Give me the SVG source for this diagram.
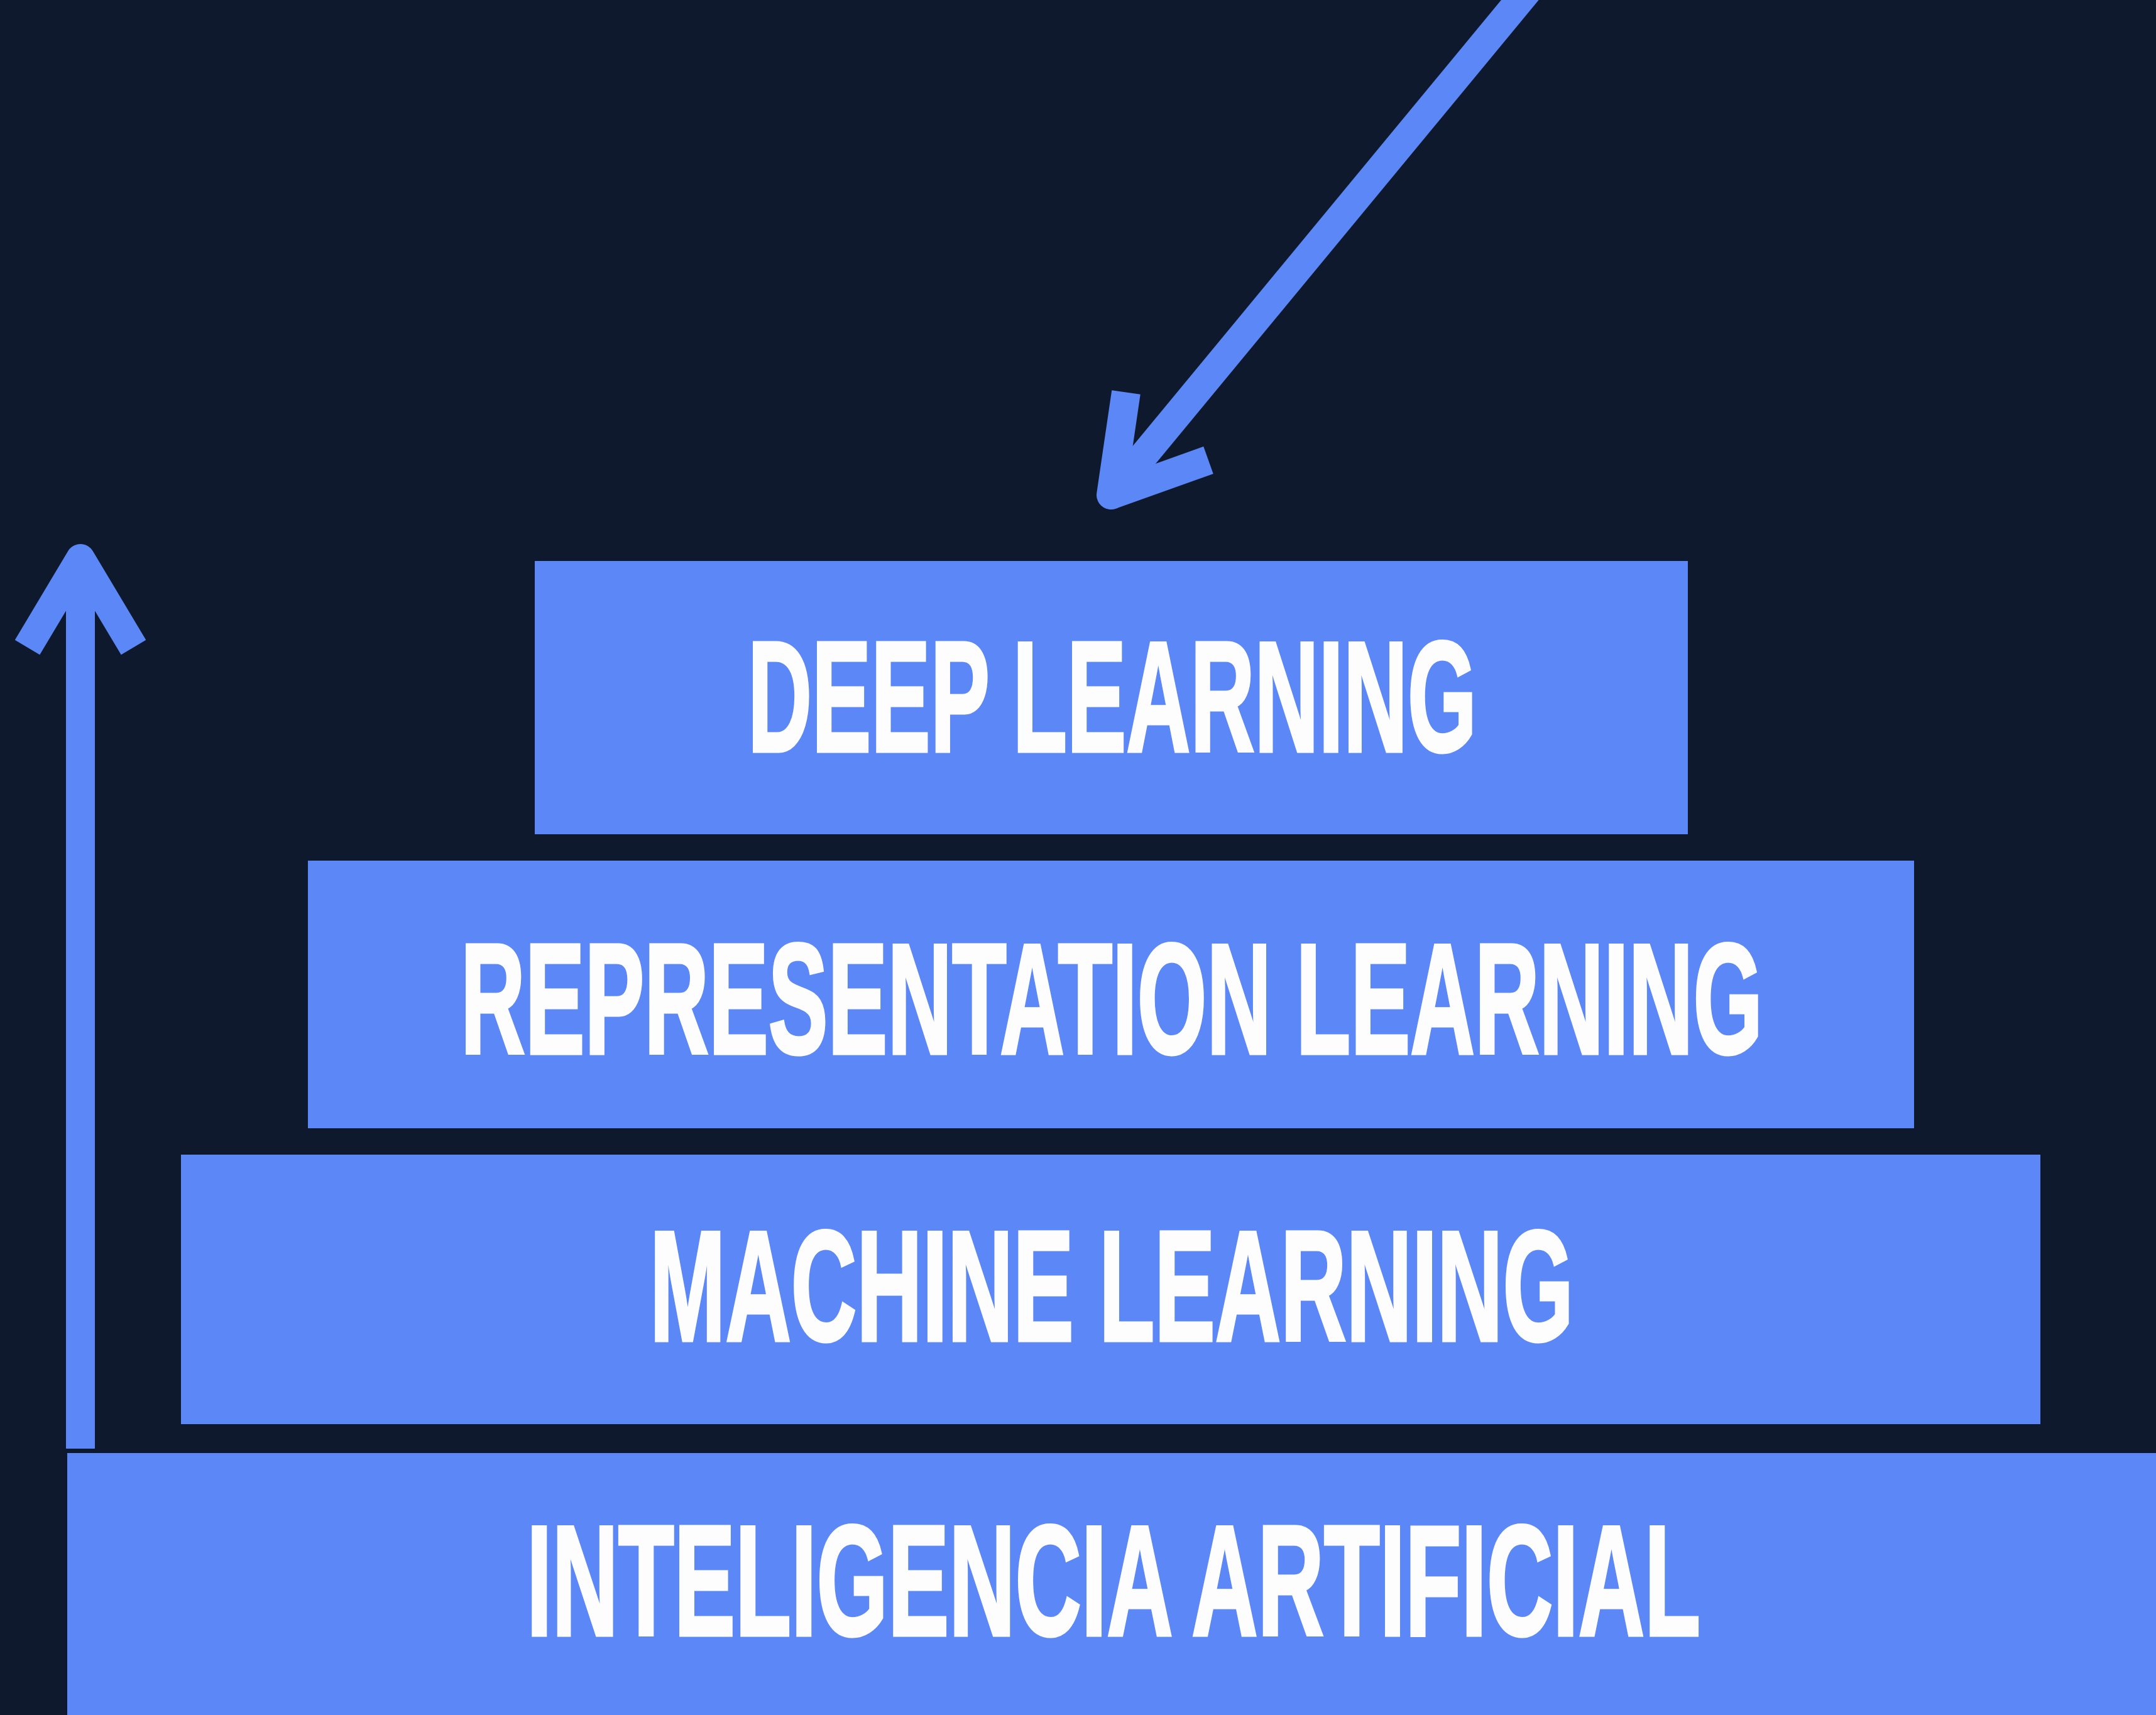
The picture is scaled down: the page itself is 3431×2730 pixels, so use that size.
<svg xmlns="http://www.w3.org/2000/svg" width="3431" height="2730" viewBox="0 0 3431 2730">
  <style>
    .bg { fill: #0f192d; }
    .box { fill: #5b88f6; }
    .label { fill: #fdfdfd; stroke: #fdfdfd; stroke-width: 5; stroke-linejoin: miter; font-family: "Liberation Sans", Arial, sans-serif; font-weight: bold; font-size: 250px; }
    .arrow { fill: none; stroke: #5b88f6; stroke-width: 46; stroke-linecap: butt; stroke-linejoin: round; }
  </style>
  <rect class="bg" x="0" y="0" width="3431" height="2730"/>
  <g id="connectors">
    <g id="arrow-up">
      <path class="arrow" d="M128 2306 L128 889"/>
      <path class="arrow" d="M43.5 1030.5 L128 889 L212.5 1030.5"/>
    </g>
    <g id="arrow-down">
      <path class="arrow" d="M2437 -22 L1768 788"/>
      <path class="arrow" d="M1792 624.5 L1768 788 L1923 732.5"/>
    </g>
  </g>
  <g id="node-ia">
    <rect class="box" x="107" y="2313" width="3324" height="417"/>
    <text class="label" transform="scale(0.564 1)" x="1485.8" y="2603.5" textLength="3312.1" lengthAdjust="spacingAndGlyphs">INTELIGENCIA ARTIFICIAL</text>
  </g>
  <g id="node-ml">
    <rect class="box" x="288" y="1838" width="2959" height="429"/>
    <text class="label" transform="scale(0.564 1)" x="1833.3" y="2134.5" textLength="2606.4" lengthAdjust="spacingAndGlyphs">MACHINE LEARNING</text>
  </g>
  <g id="node-rl">
    <rect class="box" x="490" y="1370" width="2556" height="426"/>
    <text class="label" transform="scale(0.564 1)" x="1299.6" y="1677.5" textLength="3673.8" lengthAdjust="spacingAndGlyphs">REPRESENTATION LEARNING</text>
  </g>
  <g id="node-dl">
    <rect class="box" x="851" y="893" width="1835" height="435"/>
    <text class="label" transform="scale(0.564 1)" x="2109.9" y="1196.5" textLength="2056.7" lengthAdjust="spacingAndGlyphs">DEEP LEARNING</text>
  </g>
</svg>
